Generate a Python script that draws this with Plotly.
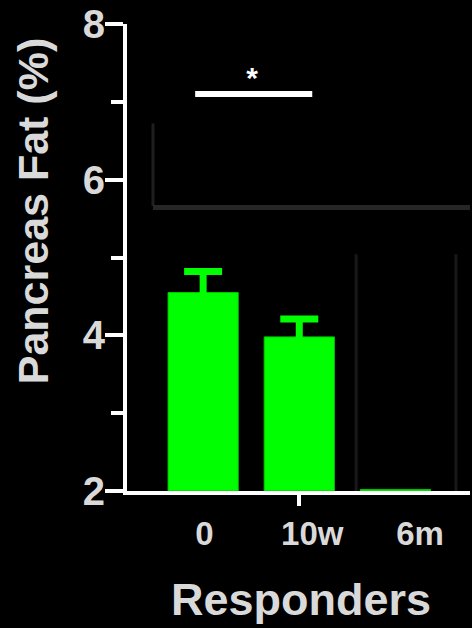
import plotly.graph_objects as go

categories = ["0", "10w", "6m"]
pancreas_fat = [4.55, 3.98, 2.02]
sem_upper = [0.27, 0.23, None]
y_ticks = [2, 4, 6, 8]
y_minor_ticks = [3, 5, 7]
sig_x = [-0.083, 1.135]
sig_y = [7.10, 7.10]
star_x = [0.51]
star_y = [7.27]

positions = list(range(len(categories)))
TXT = "#d9d9d9"
FONT = "Liberation Sans, Arial, sans-serif"

fig = go.Figure()
fig.add_trace(go.Bar(
    x=positions, y=[v - 2 for v in pancreas_fat], base=2, width=0.73,
    marker=dict(color="#00ff00", line=dict(color="#00c800", width=1)),
    showlegend=False, hoverinfo="skip"))
# upper-only SEM error bars for groups that have one
eb = [(p, v, e) for p, v, e in zip(positions, pancreas_fat, sem_upper) if e is not None]
fig.add_trace(go.Scatter(
    x=[p for p, _, _ in eb], y=[v for _, v, _ in eb], mode="markers",
    marker=dict(opacity=0),
    error_y=dict(type="data", array=[e for _, _, e in eb], arrayminus=[0.1] * len(eb),
                 symmetric=False, color="#00ff00", thickness=7, width=19),
    showlegend=False, hoverinfo="skip"))
fig.add_trace(go.Scatter(x=sig_x, y=sig_y, mode="lines",
                         line=dict(color="white", width=6), showlegend=False, hoverinfo="skip"))
fig.add_trace(go.Scatter(x=star_x, y=star_y, mode="text", text=["*"],
                         textfont=dict(color="white", size=30, family=FONT, weight="bold"),
                         textposition="middle center", showlegend=False, hoverinfo="skip"))
# helper traces so overlay axes render
fig.add_trace(go.Scatter(x=[1], y=[2], xaxis="x2", mode="markers", marker=dict(opacity=0),
                         showlegend=False, hoverinfo="skip"))
fig.add_trace(go.Scatter(x=[1], y=[2], xaxis="x3", mode="markers", marker=dict(opacity=0),
                         showlegend=False, hoverinfo="skip"))

xr = [-0.792, 2.776]
fig.update_layout(
    width=472, height=628,
    margin=dict(l=127, r=2, t=22, b=137),
    paper_bgcolor="black", plot_bgcolor="black",
    xaxis=dict(range=xr, showline=True, linecolor="white", linewidth=4,
               ticks="", showticklabels=False, showgrid=False, zeroline=False),
    xaxis2=dict(range=xr, overlaying="x", side="bottom", anchor="y", showline=False,
                tickmode="array", tickvals=[1], ticks="outside", ticklen=14, tickwidth=4,
                tickcolor="white", showticklabels=False, showgrid=False, zeroline=False),
    xaxis3=dict(range=[-0.719, 2.464], overlaying="x", side="bottom", anchor="y", showline=False,
                tickmode="array", tickvals=positions, ticktext=categories,
                ticks="outside", ticklen=13, tickcolor="rgba(0,0,0,0)",
                tickfont=dict(size=33, color=TXT, family=FONT, weight="bold"),
                showgrid=False, zeroline=False),
    yaxis=dict(range=[2, 8], tickmode="array", tickvals=y_ticks,
               showline=True, linecolor="white", linewidth=4,
               ticks="outside", ticklen=18, tickwidth=4, tickcolor="white",
               ticklabelstandoff=-8,
               tickfont=dict(size=40, color=TXT, family=FONT, weight="bold"),
               minor=dict(tickmode="array", tickvals=y_minor_ticks, ticks="outside",
                          ticklen=12, tickwidth=4, tickcolor="white", showgrid=False),
               showgrid=False, zeroline=False),
    annotations=[
        dict(text="Pancreas Fat (%)", xref="paper", yref="paper", x=-0.274, y=0.599,
             xanchor="center", yanchor="middle", textangle=-90, showarrow=False,
             font=dict(size=43, color=TXT, family=FONT, weight="bold")),
        dict(text="Responders", xref="paper", yref="paper", x=0.506, y=-0.233,
             xanchor="center", yanchor="middle", showarrow=False,
             font=dict(size=45, color=TXT, family=FONT, weight="bold")),
    ],
    shapes=[
        dict(type="line", xref="paper", yref="paper", x0=0.0758, x1=0.0758, y0=0.61, y1=0.787,
             line=dict(color="#1f1f1f", width=3), layer="below"),
        dict(type="line", xref="paper", yref="paper", x0=0.0758, x1=1.0, y0=0.607, y1=0.607,
             line=dict(color="#262626", width=5), layer="below"),
        dict(type="line", xref="paper", yref="paper", x0=0.668, x1=0.668, y0=0, y1=0.507,
             line=dict(color="#181818", width=3), layer="below"),
        dict(type="line", xref="paper", yref="paper", x0=0.959, x1=0.959, y0=0, y1=0.507,
             line=dict(color="#181818", width=3), layer="below"),
    ],
)
fig.write_html("out.html", config={"displayModeBar": False},
               post_script="document.body.style.margin='0';document.body.style.background='black';")
